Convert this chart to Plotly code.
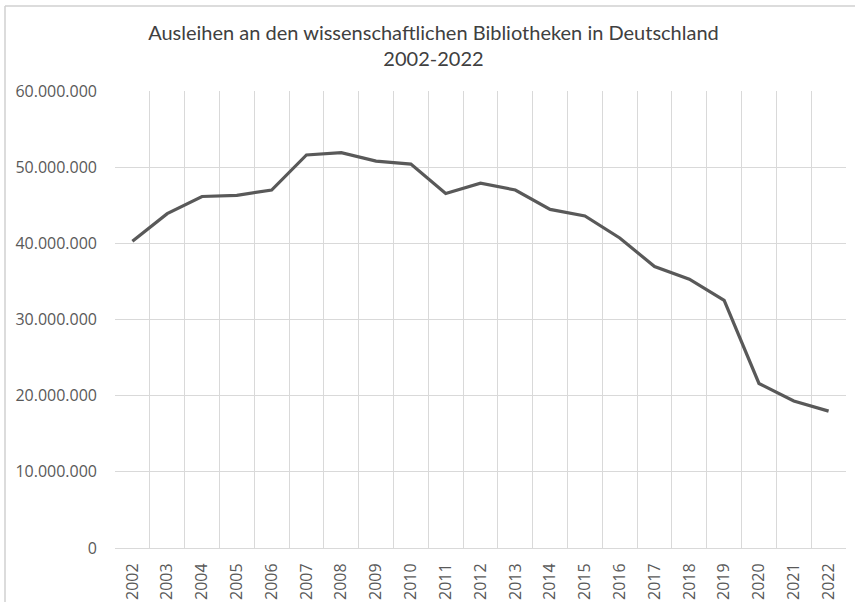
import plotly.graph_objects as go

years = [str(y) for y in range(2002, 2023)]
ausleihen = [40270000, 43900000, 46150000, 46300000, 47000000, 51600000, 51900000,
             50800000, 50400000, 46550000, 47900000, 47000000, 44450000, 43600000,
             40700000, 36950000, 35300000, 32500000, 21600000, 19300000, 17970000]
y_ticks = [0, 10000000, 20000000, 30000000, 40000000, 50000000, 60000000]

title_text = "Ausleihen an den wissenschaftlichen Bibliotheken in Deutschland<br>2002-2022"

fig = go.Figure()
fig.add_trace(go.Scatter(x=years, y=ausleihen, mode="lines",
                         line=dict(color="#595959", width=3.2), hoverinfo="skip"))

grid = "#d9d9d9"
fig.update_layout(
    width=855, height=602,
    margin=dict(l=115, r=9, t=91, b=54),
    paper_bgcolor="white", plot_bgcolor="white",
    separators=",.",
    showlegend=False,
    title=dict(text=title_text, x=0.507, xanchor="center", y=0.933, yanchor="middle",
               font=dict(family="Lato, Open Sans, sans-serif", size=20, color="#404040")),
    xaxis=dict(type="category", tickson="boundaries", showgrid=True, gridcolor=grid, gridwidth=1,
               showline=True, linecolor=grid, linewidth=1, ticks="", tickangle=-90,
               tickfont=dict(family="Open Sans, sans-serif", size=16, color="#595959"),
               ticklabelstandoff=8, range=[-0.5, 20.5], zeroline=False, automargin=False),
    yaxis=dict(range=[0, 60000000], tickvals=y_ticks, tickformat=",.0f", showgrid=True,
               gridcolor=grid, gridwidth=1, zeroline=False, showline=False, ticks="",
               tickfont=dict(family="Open Sans, sans-serif", size=16, color="#595959"),
               ticklabelstandoff=17, automargin=False),
    shapes=[
        dict(type="line", xref="paper", yref="paper", x0=-110/731, x1=1.1, y0=1+(91-6)/457, y1=1+(91-6)/457,
             line=dict(color="#d0d0d0", width=1.5)),
        dict(type="line", xref="paper", yref="paper", x0=-110/731, x1=-110/731, y0=-0.2, y1=1+(91-6)/457,
             line=dict(color="#d0d0d0", width=1.5)),
    ],
)

fig.write_html("out.html", config={"displayModeBar": False},
               post_script="document.body.style.margin='0';document.body.style.overflow='hidden';")
